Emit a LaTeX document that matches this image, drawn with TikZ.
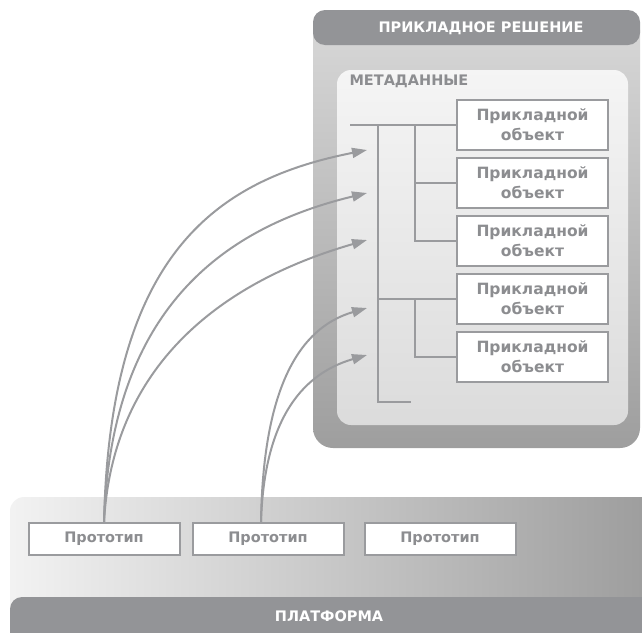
\documentclass[tikz,border=0pt]{standalone}
\usepackage{fontspec}
\setmainfont{DejaVu Sans}
\usetikzlibrary{arrows.meta}
\definecolor{bargray}{HTML}{939497}
\definecolor{linegray}{HTML}{9A9B9E}
\definecolor{textgray}{HTML}{8C8D90}
\tikzset{
  objbox/.style={draw=linegray, line width=2pt, fill=white, minimum width=151pt, minimum height=50pt,
    inner sep=0pt, align=center, text=textgray, font=\bfseries\fontsize{15.5}{20}\selectfont},
  protobox/.style={draw=linegray, line width=2pt, fill=white, minimum width=151pt, minimum height=32pt,
    inner sep=0pt, text=textgray, font=\bfseries\fontsize{14.5}{18}\selectfont},
  titletext/.style={text=white, font=\bfseries\fontsize{14.5}{18}\selectfont},
  treeline/.style={draw=linegray, line width=2pt},
  link/.style={draw=linegray, line width=2pt, -{Triangle[length=15pt,width=10pt]}}
}
\begin{document}
\begin{tikzpicture}[x=1pt, y=-1pt]
    \clip (0,0) rectangle (642,632);
    % application solution
    \path[rounded corners=20pt, top color=black!15, bottom color=black!38] (313,10) rectangle (640,448);
    \path[rounded corners=12pt, fill=bargray] (313,10) rectangle (640,45);
    \node[titletext] (solution) at (481,28) {ПРИКЛАДНОЕ РЕШЕНИЕ};
    \path[rounded corners=14pt, top color=black!4, bottom color=black!14] (337,70) rectangle (628,425);
    \node[anchor=west, titletext, text=textgray] (meta) at (346,81) {МЕТАДАННЫЕ};
    \node[objbox] (obj1) at (532.5,124.5) {Прикладной\\объект};
    \node[objbox] (obj2) at (532.5,182.5) {Прикладной\\объект};
    \node[objbox] (obj3) at (532.5,241) {Прикладной\\объект};
    \node[objbox] (obj4) at (532.5,298.5) {Прикладной\\объект};
    \node[objbox] (obj5) at (532.5,356.5) {Прикладной\\объект};
    \coordinate (root) at (350,124.5);
    \coordinate (trunk) at (378,402);
    \coordinate (trunkend) at (411,402);
    \coordinate (branch) at (415,0);
    \draw[treeline] (root) -- (obj1.west);
    \draw[treeline] (root -| trunk) -- (trunk) -- (trunkend);
    \draw[treeline] (obj1.west -| branch) |- (obj3.west);
    \draw[treeline] (obj2.west -| branch) -- (obj2.west);
    \draw[treeline] (obj4.west -| trunk) -- (obj4.west);
    \draw[treeline] (obj4.west -| branch) |- (obj5.west);
    % platform
    \path[rounded corners=14pt, left color=black!5, right color=black!40] (10,497) rectangle (680,660);
    \path[rounded corners=12pt, fill=bargray] (10,597) rectangle (680,660);
    \node[titletext] (platform) at (329,616) {ПЛАТФОРМА};
    \node[protobox] (proto1) at (104,539) {Прототип};
    \node[protobox] (proto2) at (268,539) {Прототип};
    \node[protobox] (proto3) at (440,539) {Прототип};
    % links
    \coordinate (t1) at (367,150);
    \coordinate (t2) at (367,193);
    \coordinate (t3) at (367,240);
    \coordinate (t4) at (367,308);
    \coordinate (t5) at (367,355);
    \draw[link] (proto1.north) .. controls (110,255) and (215,180) .. (t1);
    \draw[link] (proto1.north) .. controls (111,310) and (222,228) .. (t2);
    \draw[link] (proto1.north) .. controls (113,360) and (228,280) .. (t3);
    \draw[link] ([xshift=-7pt]proto2.north) .. controls (263,390) and (298,328) .. (t4);
    \draw[link] ([xshift=-7pt]proto2.north) .. controls (264,425) and (298,375) .. (t5);
\end{tikzpicture}
\end{document}
